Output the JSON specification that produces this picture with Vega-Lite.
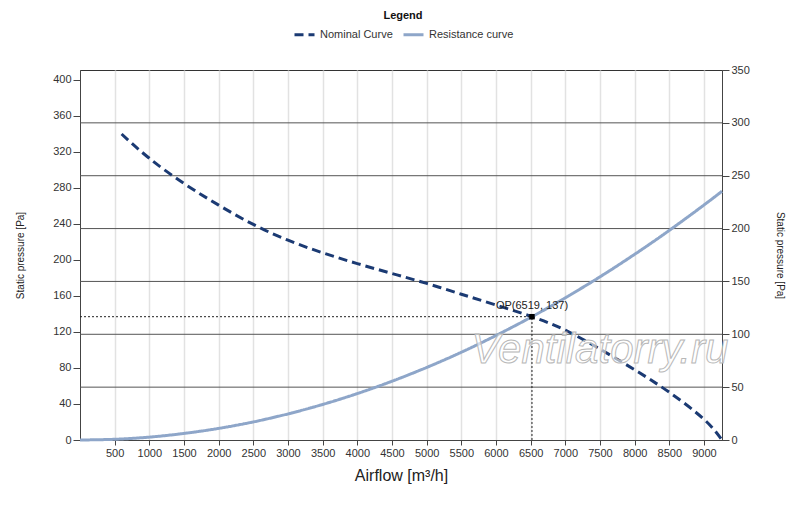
{
  "$schema": "https://vega.github.io/schema/vega-lite/v6.json",
  "description": "Fan curve: nominal curve and resistance curve with operating point",
  "width": 642,
  "height": 370,
  "autosize": {"type": "none"},
  "padding": {"left": 80, "top": 70, "right": 78, "bottom": 67},
  "background": "white",
  "datasets": {
    "curves": [
      {"series": "Nominal Curve", "q": 600, "p": 340},
      {"series": "Nominal Curve", "q": 1000, "p": 313},
      {"series": "Nominal Curve", "q": 1500, "p": 285},
      {"series": "Nominal Curve", "q": 2000, "p": 261},
      {"series": "Nominal Curve", "q": 2500, "p": 239.5},
      {"series": "Nominal Curve", "q": 3000, "p": 222},
      {"series": "Nominal Curve", "q": 3500, "p": 208},
      {"series": "Nominal Curve", "q": 4000, "p": 196},
      {"series": "Nominal Curve", "q": 4500, "p": 185},
      {"series": "Nominal Curve", "q": 5000, "p": 174},
      {"series": "Nominal Curve", "q": 5500, "p": 162},
      {"series": "Nominal Curve", "q": 6000, "p": 150},
      {"series": "Nominal Curve", "q": 6519, "p": 137},
      {"series": "Nominal Curve", "q": 7000, "p": 122},
      {"series": "Nominal Curve", "q": 7500, "p": 101},
      {"series": "Nominal Curve", "q": 8000, "p": 78},
      {"series": "Nominal Curve", "q": 8500, "p": 53},
      {"series": "Nominal Curve", "q": 9000, "p": 23},
      {"series": "Nominal Curve", "q": 9260, "p": 0},
      {"series": "Resistance curve", "q": 0, "p": 0},
      {"series": "Resistance curve", "q": 500, "p": 0.8},
      {"series": "Resistance curve", "q": 1000, "p": 3.2},
      {"series": "Resistance curve", "q": 1500, "p": 7.3},
      {"series": "Resistance curve", "q": 2000, "p": 12.9},
      {"series": "Resistance curve", "q": 2500, "p": 20.1},
      {"series": "Resistance curve", "q": 3000, "p": 29},
      {"series": "Resistance curve", "q": 3500, "p": 39.5},
      {"series": "Resistance curve", "q": 4000, "p": 51.6},
      {"series": "Resistance curve", "q": 4500, "p": 65.3},
      {"series": "Resistance curve", "q": 5000, "p": 80.6},
      {"series": "Resistance curve", "q": 5500, "p": 97.5},
      {"series": "Resistance curve", "q": 6000, "p": 116.1},
      {"series": "Resistance curve", "q": 6519, "p": 137},
      {"series": "Resistance curve", "q": 7000, "p": 158},
      {"series": "Resistance curve", "q": 7500, "p": 181.3},
      {"series": "Resistance curve", "q": 8000, "p": 206.3},
      {"series": "Resistance curve", "q": 8500, "p": 232.9},
      {"series": "Resistance curve", "q": 9000, "p": 261.1},
      {"series": "Resistance curve", "q": 9260, "p": 276.4}
    ],
    "op": [{"q": 6519, "p": 137, "z": 0, "label": "OP(6519, 137)"}],
    "rightTicks": [
      {"rp": 50}, {"rp": 100}, {"rp": 150}, {"rp": 200}, {"rp": 250}, {"rp": 300}
    ],
    "watermark": [{"q": 7500, "p": 100, "text": "Ventilatorry.ru"}]
  },
  "layer": [
    {
      "data": {"name": "rightTicks"},
      "mark": {"type": "rule", "color": "#555555", "strokeWidth": 1},
      "encoding": {
        "y": {
          "field": "rp",
          "type": "quantitative",
          "scale": {"domain": [0, 350], "nice": false},
          "axis": {
            "orient": "right",
            "values": [0, 50, 100, 150, 200, 250, 300, 350],
            "tickCount": 40,
            "format": "d",
            "grid": false,
            "tickSize": 7,
            "labelPadding": 2,
            "labelOverlap": false,
            "title": "Static pressure [Pa]",
            "titleAngle": 90,
            "titlePadding": 25,
            "titleFontSize": 10
          }
        }
      }
    },
    {
      "layer": [
        {
          "data": {"name": "curves"},
          "mark": {"type": "line", "strokeWidth": 3, "interpolate": "natural"},
          "encoding": {
            "x": {
              "field": "q",
              "type": "quantitative",
              "scale": {"domain": [0, 9260], "nice": false},
              "axis": {
                "values": [500, 1000, 1500, 2000, 2500, 3000, 3500, 4000, 4500, 5000, 5500, 6000, 6500, 7000, 7500, 8000, 8500, 9000],
                "tickCount": 40,
                "format": "d",
                "tickSize": 5,
                "labelPadding": 2,
                "labelOverlap": false,
                "title": "Airflow [m³/h]",
                "titleFontSize": 16,
                "titlePadding": 9
              }
            },
            "y": {
              "field": "p",
              "type": "quantitative",
              "scale": {"domain": [0, 411.1], "nice": false},
              "axis": {
                "orient": "left",
                "values": [0, 40, 80, 120, 160, 200, 240, 280, 320, 360, 400],
                "tickCount": 40,
                "format": "d",
                "tickSize": 7,
                "labelPadding": 2,
                "labelOverlap": false,
                "title": "Static pressure [Pa]",
                "titleFontSize": 10,
                "titlePadding": 27
              }
            },
            "color": {
              "field": "series",
              "type": "nominal",
              "scale": {"domain": ["Nominal Curve", "Resistance curve"], "range": ["#1b3a73", "#8ea6c9"]},
              "legend": {"title": "Legend"}
            },
            "strokeDash": {
              "field": "series",
              "type": "nominal",
              "scale": {"domain": ["Nominal Curve", "Resistance curve"], "range": [[9, 5], [1, 0]]},
              "legend": {"title": "Legend"}
            }
          }
        },
        {
          "data": {"name": "op"},
          "mark": {"type": "rule", "color": "#222222", "strokeWidth": 1, "strokeDash": [2, 2]},
          "encoding": {
            "x": {"field": "z", "type": "quantitative"},
            "x2": {"field": "q"},
            "y": {"field": "p", "type": "quantitative"}
          }
        },
        {
          "data": {"name": "op"},
          "mark": {"type": "rule", "color": "#222222", "strokeWidth": 1, "strokeDash": [2, 2]},
          "encoding": {
            "x": {"field": "q", "type": "quantitative"},
            "y": {"field": "z", "type": "quantitative"},
            "y2": {"field": "p"}
          }
        },
        {
          "data": {"name": "op"},
          "mark": {"type": "point", "shape": "square", "filled": true, "size": 30, "color": "black", "opacity": 1},
          "encoding": {
            "x": {"field": "q", "type": "quantitative"},
            "y": {"field": "p", "type": "quantitative"}
          }
        },
        {
          "data": {"name": "op"},
          "mark": {"type": "text", "fontSize": 11, "color": "#222222", "dy": -11},
          "encoding": {
            "x": {"field": "q", "type": "quantitative"},
            "y": {"field": "p", "type": "quantitative"},
            "text": {"field": "label"}
          }
        },
        {
          "data": {"name": "watermark"},
          "mark": {"type": "text", "fontSize": 42, "fontStyle": "italic", "fill": "white", "fillOpacity": 0.6, "stroke": "#b8b8b8", "strokeWidth": 1},
          "encoding": {
            "x": {"field": "q", "type": "quantitative"},
            "y": {"field": "p", "type": "quantitative"},
            "text": {"field": "text"}
          }
        }
      ]
    }
  ],
  "resolve": {"scale": {"y": "independent"}, "axis": {"y": "independent"}},
  "config": {
    "font": "Liberation Sans",
    "view": {"stroke": "#333333", "strokeWidth": 1},
    "axis": {
      "labelFontSize": 11,
      "labelColor": "#333333",
      "titleColor": "#222222",
      "titleFontWeight": "normal",
      "domainColor": "#444444",
      "tickColor": "#444444",
      "gridColor": "#e2e2e2",
      "gridWidth": 1.5
    },
    "legend": {
      "orient": "none",
      "legendX": 213,
      "legendY": -60,
      "direction": "horizontal",
      "titleAnchor": "middle",
      "titleFontSize": 11,
      "titleFontWeight": "bold",
      "titleColor": "#111111",
      "titlePadding": 2,
      "labelFontSize": 11,
      "labelColor": "#333333",
      "symbolType": "stroke",
      "symbolSize": 400,
      "symbolStrokeWidth": 3,
      "columnPadding": 4,
      "labelOffset": 4
    }
  }
}
